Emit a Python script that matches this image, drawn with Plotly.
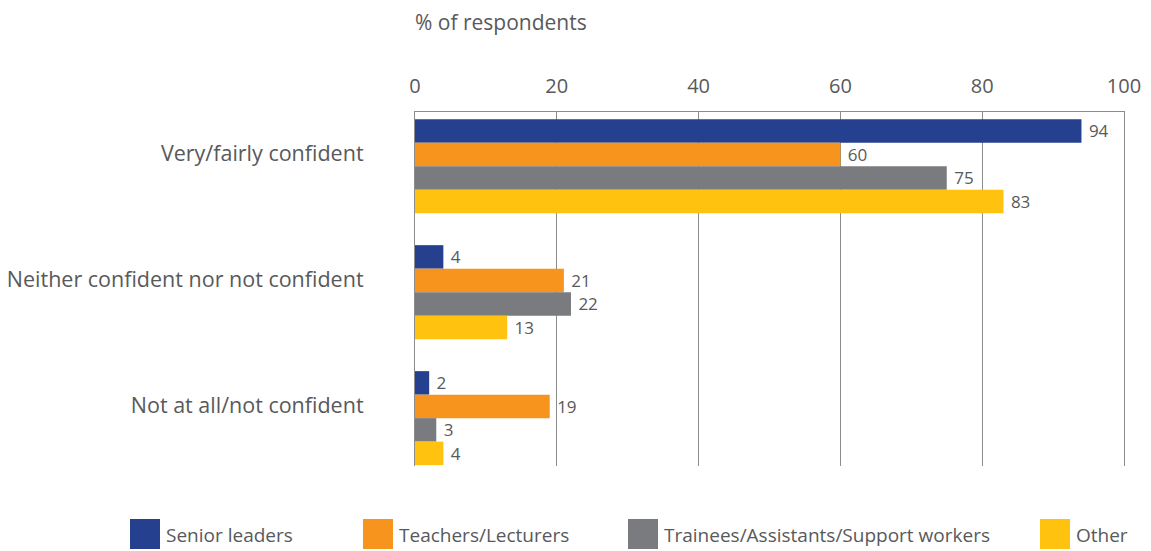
import plotly.graph_objects as go

categories = ["Very/fairly confident", "Neither confident nor not confident", "Not at all/not confident"]
series_names = ["Senior leaders", "Teachers/Lecturers", "Trainees/Assistants/Support workers", "Other"]
senior = [94, 4, 2]
teachers = [60, 21, 19]
trainees = [75, 22, 3]
other = [83, 13, 4]
x_ticks = [0, 20, 40, 60, 80, 100]

colors = ["#25408F", "#F7941D", "#7A7B7E", "#FFC20E"]
text_color = "#58595B"
font_family = "Open Sans"
line_color = "#8C8C8C"

fig = go.Figure()
for name, vals, col in zip(series_names, [senior, teachers, trainees, other], colors):
    fig.add_trace(go.Bar(
        y=categories, x=vals, name=name, orientation="h",
        marker=dict(color=col, line=dict(width=0)),
        texttemplate=" %{x}", textposition="outside",
        textfont=dict(size=17, color=text_color, family=font_family),
        cliponaxis=False, showlegend=False,
    ))

# custom legend (swatch + label) positioned below the plot
W, H = 1151, 551
L, R, T, B = 415, 27, 112, 85
PW, PH = W - L - R, H - T - B
legend_x = [130, 363, 628, 1040]
shapes = []
annotations = [dict(text="% of respondents", xref="paper", yref="paper", x=0, y=1,
                    xanchor="left", yanchor="middle", yshift=90, xshift=-2, showarrow=False,
                    font=dict(size=21, color=text_color))]
for name, col, lx in zip(series_names, colors, legend_x):
    shapes.append(dict(type="rect", xref="paper", yref="paper",
                       x0=(lx - L) / PW, x1=(lx + 30 - L) / PW,
                       y0=(H - B - 549) / PH, y1=(H - B - 519) / PH,
                       fillcolor=col, line=dict(width=0)))
    annotations.append(dict(text=name, xref="paper", yref="paper",
                            x=(lx + 34 - L) / PW, y=(H - B - 535) / PH,
                            xanchor="left", yanchor="middle", showarrow=False,
                            font=dict(size=19, color=text_color)))

fig.update_layout(
    width=W, height=H,
    margin=dict(l=L, r=R, t=T, b=B),
    paper_bgcolor="white", plot_bgcolor="white",
    barmode="group", bargap=0.254, bargroupgap=0,
    font=dict(family=font_family, color=text_color, size=18),
    showlegend=False,
    xaxis=dict(side="top", range=[0, 100], tickvals=x_ticks, ticktext=[str(t) for t in x_ticks],
               showgrid=True, gridcolor=line_color, gridwidth=1.3,
               showline=True, linecolor=line_color, linewidth=1.3, mirror=False,
               zeroline=False, ticks="", ticklabelstandoff=10, automargin=False,
               tickfont=dict(size=20, color=text_color)),
    yaxis=dict(range=[2.38, -0.43], showgrid=False, showline=True, linecolor=line_color,
               linewidth=1.3, mirror=True, ticks="", ticklabelstandoff=46, automargin=False,
               ticklabelshift=13,
               tickfont=dict(size=21.5, color=text_color)),
    shapes=shapes,
    annotations=annotations,
)

fig.write_html("out.html", config={"displayModeBar": False},
               post_script="document.body.style.margin='0';")
